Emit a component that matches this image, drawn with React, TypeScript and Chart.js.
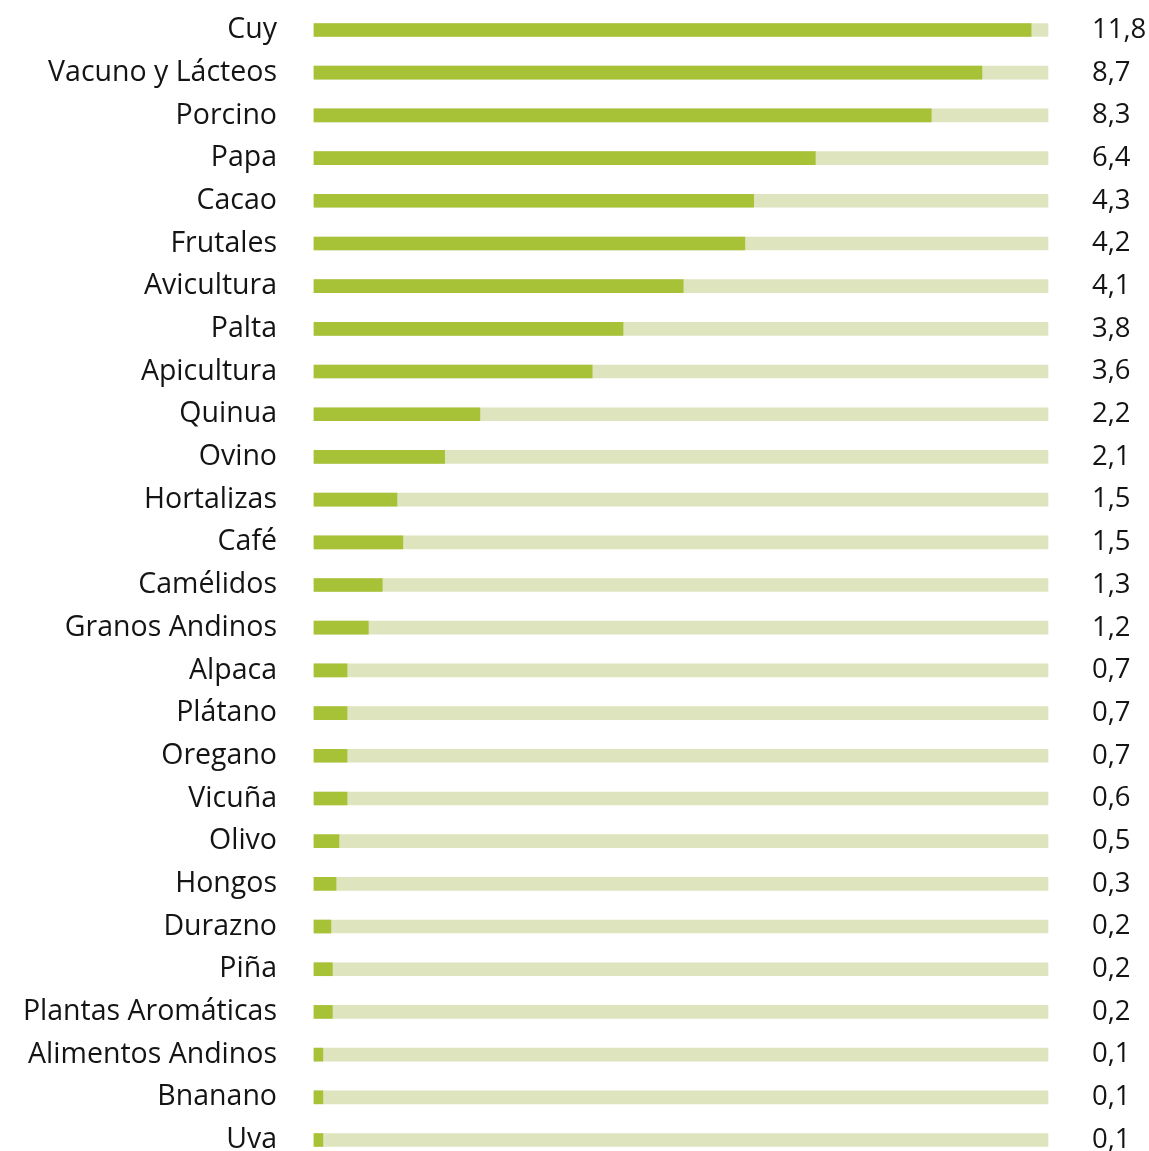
import React, { useEffect, useRef } from "react";
import { Chart, registerables } from "chart.js";

Chart.register(...registerables);

const categories = [
  "Cuy", "Vacuno y Lácteos", "Porcino", "Papa", "Cacao", "Frutales", "Avicultura",
  "Palta", "Apicultura", "Quinua", "Ovino", "Hortalizas", "Café", "Camélidos",
  "Granos Andinos", "Alpaca", "Plátano", "Oregano", "Vicuña", "Olivo", "Hongos",
  "Durazno", "Piña", "Plantas Aromáticas", "Alimentos Andinos", "Bnanano", "Uva",
];

// Printed values (right column)
const valueLabels = [
  "11,8", "8,7", "8,3", "6,4", "4,3", "4,2", "4,1", "3,8", "3,6", "2,2", "2,1",
  "1,5", "1,5", "1,3", "1,2", "0,7", "0,7", "0,7", "0,6", "0,5", "0,3", "0,2",
  "0,2", "0,2", "0,1", "0,1", "0,1",
];

// Bar lengths as drawn (% of the track)
const barLengths = [
  97.7, 91.0, 84.1, 68.3, 59.9, 58.7, 50.3, 42.1, 37.9, 22.6, 17.8, 11.3, 12.1,
  9.3, 7.4, 4.5, 4.5, 4.5, 4.5, 3.4, 3.0, 2.3, 2.5, 2.5, 1.2, 1.2, 1.2,
];

const trackMax = 100;
const trackValues = categories.map(() => trackMax);

const FONT = "'Open Sans', 'Noto Sans', sans-serif";

export default function App() {
  const ref = useRef<HTMLCanvasElement | null>(null);

  useEffect(() => {
    if (!ref.current) return;
    const zeroPad = (scale: any, w: number) => {
      scale.width = w;
      scale.paddingTop = 0;
      scale.paddingBottom = 0;
    };
    const chart = new Chart(ref.current, {
      type: "bar",
      data: {
        labels: categories,
        datasets: [
          {
            data: barLengths,
            backgroundColor: "#a8c238",
            barThickness: 13,
            grouped: false,
            clip: false as any,
            xAxisID: "x",
            yAxisID: "y",
          },
          {
            data: trackValues,
            backgroundColor: "#dee4bd",
            barThickness: 13,
            grouped: false,
            clip: false as any,
            xAxisID: "x",
            yAxisID: "y",
          },
        ],
      },
      options: {
        indexAxis: "y",
        responsive: false,
        animation: false,
        devicePixelRatio: 1,
        layout: { padding: { top: 30, bottom: 11, left: 0, right: 0 } },
        plugins: { legend: { display: false }, tooltip: { enabled: false } },
        scales: {
          x: {
            display: false,
            min: 0,
            max: trackMax,
          },
          y: {
            type: "category",
            position: "left",
            offset: false,
            grid: { display: false, drawTicks: false },
            border: { display: false },
            ticks: {
              padding: 37,
              color: "#141414",
              font: { family: FONT, size: 28.5 },
              autoSkip: false,
            },
            afterFit: (scale: any) => zeroPad(scale, 314),
          },
          y2: {
            type: "category",
            position: "right",
            labels: valueLabels,
            offset: false,
            grid: { display: false, drawTicks: false },
            border: { display: false },
            ticks: {
              padding: 44,
              color: "#141414",
              font: { family: FONT, size: 27.5 },
              autoSkip: false,
            },
            afterFit: (scale: any) => zeroPad(scale, 101),
          },
        },
      },
    });
    return () => chart.destroy();
  }, []);

  return (
    <div style={{ position: "absolute", left: 0, top: 0, width: 1149, height: 1151, background: "#ffffff" }}>
      <canvas ref={ref} width={1149} height={1151} style={{ width: 1149, height: 1151, display: "block" }} />
    </div>
  );
}
